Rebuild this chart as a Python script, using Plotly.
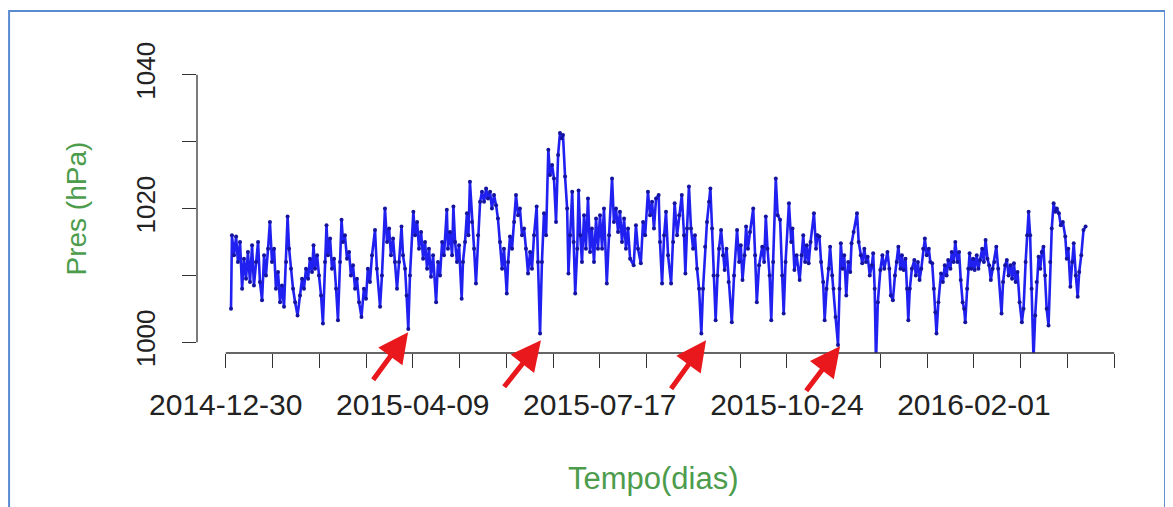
import pandas as pd
import plotly.graph_objects as go

# serie de pressao (dias desde 2015-01-01, hPa)
inicio = pd.Timestamp("2015-01-01")
dias = [
    0.8, 1.3, 2.4, 3.5, 4.5, 5.6, 6.7, 7.7, 8.8, 9.8, 10.9, 12.0, 13.0, 14.1, 15.2, 16.2, 17.3, 18.4, 19.4, 20.5,
    21.5, 22.6, 23.7, 24.7, 25.8, 26.9, 27.9, 29.0, 30.1, 30.9, 31.7, 32.7, 33.8, 34.9, 36.2, 37.5,
    38.6, 39.6, 40.7, 41.8, 42.8, 43.9, 44.7, 45.5, 46.6, 47.6, 48.7, 49.7, 50.8, 51.6, 52.4, 53.5, 54.5, 55.6,
    56.7, 57.7, 58.8, 59.6, 60.4, 61.4, 62.5, 63.6, 64.6, 65.7, 66.8, 67.8, 68.9, 70.2, 71.5, 72.6, 73.6, 74.7,
    75.8, 77.4, 78.4, 80.1,
    81.1, 82.7, 83.8, 84.9, 85.9, 87.0, 88.0, 89.1, 90.2, 91.5, 92.3, 93.4, 94.2, 95.1, 96.0, 97.8, 98.7, 99.8,
    100.8, 101.9, 103.0, 104.0, 105.1, 106.1, 107.2, 108.3, 109.9, 110.9, 112.0,
    113.1, 114.1, 115.6, 116.2, 117.3, 118.4, 119.1, 120.0, 121.0, 122.1, 123.5, 124.2, 125.3, 126.3, 127.1,
    127.9, 129.0, 130.1, 131.1, 132.2, 133.3, 134.3, 135.4, 136.5, 137.5, 138.6, 139.6, 140.7, 141.8, 142.8,
    143.9, 145.0, 146.0, 147.5, 148.2, 149.2, 150.3, 151.4, 152.4, 153.5, 154.5, 155.6, 156.7, 157.7, 158.8,
    159.9, 160.9, 162.0, 163.4, 164.1, 165.2, 166.2, 167.3, 168.4, 169.6, 170.5, 171.6, 172.6, 173.7, 174.8,
    175.8, 176.6, 177.4, 178.5, 179.6, 180.3, 181.2, 182.3, 183.1, 183.9, 185.0, 185.7, 186.6,
    187.5, 188.6, 189.6, 190.7, 191.8, 192.8, 193.9, 195.0, 196.0, 197.1,
    198.2, 199.2, 200.7, 201.9, 203.5, 204.5, 205.6, 206.7, 207.7, 208.8, 209.9, 210.9, 212.0, 213.1, 215.0,
    216.2, 217.3, 218.8, 220.0, 221.1, 222.6, 223.7, 224.8, 225.8, 226.9, 228.3, 229.0, 230.1, 231.2, 232.2,
    233.3, 234.9, 236.0, 236.8, 238.1, 239.2, 240.6, 241.8, 242.5, 243.4, 244.4, 245.5, 246.6, 247.6, 248.7, 249.8,
    251.0, 251.9, 253.0, 254.0, 255.1, 255.8, 256.7, 257.5, 258.6, 259.6, 260.4, 261.5, 262.5, 263.4, 264.4,
    265.5, 267.2, 268.4, 270.0, 271.1, 272.0, 272.9, 274.0, 274.8, 275.8, 276.9, 278.6, 279.6, 280.5, 281.7,
    283.4, 284.4, 285.3, 286.2, 287.3, 288.2, 289.2, 290.6, 291.6, 292.9, 294.0, 294.8, 295.8, 297.6, 298.8,
    299.5, 300.5, 301.7, 303.3, 304.3,
    305.2, 306.2, 307.1, 308.1, 309.1, 310.9, 312.0, 312.8, 313.8, 314.7, 315.8, 316.6, 317.6, 318.7, 319.5,
    320.6, 321.3, 322.4, 323.7, 324.5, 325.2, 326.2, 327.0, 328.1, 329.1, 330.2, 330.9, 332.0, 333.8, 334.7,
    335.8, 336.6, 337.7, 338.6, 339.5, 340.6, 341.7, 342.4, 343.2, 343.9, 344.9, 346.2, 347.3, 348.3, 350.0,
    351.0, 351.8, 352.9, 354.0, 354.9, 355.8, 356.9,
    357.7, 358.6, 359.6, 360.4, 361.1, 361.9, 363.0, 364.3, 365.1, 366.2, 367.1, 368.0, 369.0, 369.9, 370.9,
    372.0, 372.8, 373.8, 374.7, 375.5, 376.1, 377.1, 378.5, 379.5, 380.5, 381.5, 382.3, 383.5, 384.2, 385.2,
    386.1, 387.2, 388.1, 389.0, 390.0, 390.8, 391.4, 392.4, 393.0, 393.7, 394.6, 395.6, 396.4, 397.5, 398.4,
    399.3, 400.4, 401.3, 402.2, 403.2, 404.1, 405.0, 406.0, 406.9, 407.9, 408.9,
    410.7, 411.5, 412.6, 413.5, 414.4, 415.5, 416.3, 417.3, 418.2, 419.2, 420.3, 421.5, 422.4, 423.5, 424.3,
    425.1, 425.9, 426.7, 427.7, 428.6, 429.4, 430.4, 431.3, 432.1, 433.0, 433.9, 434.7, 435.7, 436.6, 437.4,
    438.4, 439.3, 440.1, 441.2, 442.2, 443.3, 444.6, 445.4, 446.2, 447.3, 448.3, 449.1, 450.2, 451.2, 452.0,
    453.1, 454.3, 455.4,
]
pres = [
    1005.0, 1016.0, 1013.0, 1015.8, 1012.0, 1015.0, 1008.0, 1012.5, 1009.5, 1013.5, 1009.0, 1014.5, 1008.5, 1012.0, 1015.0, 1009.0, 1006.3, 1013.0, 1010.0, 1014.0,
    1018.0, 1012.0, 1014.0, 1008.0, 1010.5, 1006.0, 1008.5, 1005.3, 1012.0, 1018.8, 1014.0, 1011.0, 1008.0, 1006.0, 1004.0, 1007.0,
    1009.5, 1008.0, 1011.0, 1009.5, 1012.5, 1010.5, 1014.5, 1011.0, 1013.0, 1010.0, 1007.0, 1002.8, 1012.0, 1017.5, 1013.0, 1015.5, 1011.0, 1012.5,
    1008.0, 1003.3, 1012.0, 1018.3, 1015.0, 1016.0, 1012.5, 1013.5, 1010.0, 1011.5, 1008.0, 1009.5, 1006.0, 1003.8, 1008.0, 1006.5, 1011.0, 1009.0,
    1013.0, 1016.8, 1011.0, 1005.3,
    1010.0, 1020.0, 1015.0, 1017.0, 1013.0, 1015.5, 1012.0, 1008.0, 1012.0, 1017.3, 1013.0, 1011.0, 1007.0, 1002.0, 1010.0, 1019.5, 1016.0, 1018.0,
    1014.0, 1016.5, 1012.5, 1015.0, 1011.0, 1014.0, 1009.8, 1013.0, 1006.0, 1012.0, 1010.0,
    1015.0, 1013.0, 1019.8, 1014.0, 1016.5, 1013.0, 1020.3, 1015.0, 1012.0, 1014.5, 1006.5, 1012.0, 1015.0, 1019.3, 1016.0,
    1024.0, 1018.0, 1014.0, 1008.8, 1016.0, 1021.0, 1022.5, 1021.0, 1023.0, 1021.5, 1022.5, 1020.0, 1022.0, 1020.5, 1018.5,
    1015.0, 1011.0, 1014.0, 1007.3, 1012.0, 1015.8, 1014.0, 1018.0, 1022.0, 1019.0, 1020.0, 1016.0, 1017.0, 1014.0, 1010.3,
    1013.5, 1011.0, 1016.0, 1020.3, 1012.0, 1001.3, 1012.0, 1019.3, 1016.0, 1028.8, 1025.0, 1026.5, 1024.5, 1018.0, 1028.0,
    1031.3, 1030.5, 1031.0, 1024.8, 1020.0, 1010.3, 1016.0, 1022.5, 1015.0, 1007.3, 1014.0, 1022.7, 1016.0,
    1012.0, 1019.0, 1014.0, 1021.5, 1013.5, 1017.0, 1012.0, 1018.5, 1014.0, 1019.0,
    1014.0, 1020.0, 1008.8, 1016.0, 1024.5, 1018.0, 1020.0, 1016.5, 1019.5, 1015.0, 1018.5, 1014.0, 1017.0, 1012.5, 1011.5,
    1017.5, 1014.0, 1011.8, 1018.0, 1016.0, 1022.5, 1019.0, 1021.0, 1017.0, 1021.5, 1022.0, 1015.0, 1008.8, 1016.0, 1019.5,
    1013.0, 1008.8, 1015.0, 1020.8, 1016.0, 1019.0, 1022.0, 1016.0, 1010.3, 1017.0, 1023.3, 1017.0, 1014.0, 1016.0, 1011.0, 1008.0,
    1001.3, 1008.0, 1014.3, 1018.0, 1021.0, 1023.0, 1017.0, 1010.0, 1003.3, 1010.0, 1014.0, 1016.8, 1013.0, 1010.8, 1014.0,
    1009.0, 1003.0, 1010.0, 1016.8, 1012.0, 1014.5, 1009.3, 1013.0, 1017.3, 1014.0, 1016.5, 1020.0, 1013.0, 1006.0, 1011.5,
    1014.3, 1012.0, 1018.8, 1014.0, 1010.0, 1003.3, 1012.0, 1024.5, 1019.0, 1018.3, 1010.0, 1004.3, 1012.0, 1020.8, 1015.0,
    1017.0, 1010.8, 1013.0, 1009.3, 1013.0,
    1016.0, 1012.0, 1014.5, 1011.8, 1015.0, 1019.3, 1014.0, 1016.0, 1015.8, 1012.0, 1009.0, 1003.3, 1008.0, 1011.0, 1014.3,
    1010.0, 1008.0, 1003.8, 999.6, 1008.0, 1014.8, 1011.0, 1013.0, 1007.0, 1012.0, 1010.5, 1014.8, 1016.5, 1019.3, 1015.0,
    1013.0, 1011.8, 1014.0, 1012.0, 1012.8, 1010.0, 1011.5, 1013.3, 1008.0, 997.0, 1006.0, 1010.8, 1013.0, 1011.0, 1013.5,
    1011.0, 1007.0, 1006.3, 1010.0, 1012.0, 1014.3, 1011.0,
    1013.0, 1010.8, 1012.5, 1008.0, 1003.3, 1008.0, 1011.0, 1012.3, 1010.0, 1012.0, 1009.3, 1011.0, 1014.0, 1015.5, 1013.0,
    1014.0, 1012.0, 1011.8, 1008.0, 1004.5, 1001.3, 1006.0, 1010.3, 1009.0, 1011.5, 1010.0, 1012.3, 1011.0, 1013.5, 1012.0,
    1015.0, 1012.0, 1013.5, 1009.3, 1006.0, 1005.0, 1003.0, 1008.0, 1011.0, 1013.3, 1011.0, 1012.5, 1010.8, 1013.0, 1011.0,
    1012.3, 1014.0, 1012.0, 1015.3, 1012.5, 1011.5, 1009.3, 1011.0, 1012.0, 1014.3, 1011.0,
    1004.3, 1009.0, 1011.5, 1012.3, 1010.0, 1011.5, 1009.5, 1011.8, 1009.0, 1010.5, 1006.0, 1003.0, 1005.0, 1012.0, 1016.0,
    1019.5, 1016.0, 1008.0, 997.5, 1004.0, 1009.0, 1012.8, 1011.0, 1013.5, 1014.3, 1010.0, 1005.0, 1002.5, 1012.0, 1017.0,
    1020.8, 1019.5, 1020.0, 1019.3, 1017.5, 1018.0, 1015.8, 1012.5, 1014.0, 1008.3, 1012.0, 1014.8, 1010.0, 1006.8, 1010.5,
    1013.0, 1016.8, 1017.3,
]

rotulos_x = ["2014-12-30", "2015-04-09", "2015-07-17", "2015-10-24", "2016-02-01"]
ticks_y = [1000, 1010, 1020, 1030, 1040]
rotulos_y = ["1000", "", "1020", "", "1040"]

# setas vermelhas nos minimos
seta_dias = [95.0, 165.7, 253.5, 324.8]
seta_pres = [1001.5, 1000.3, 1000.3, 999.4]
seta_dx = [-36, -38, -36, -35]
seta_dy = [49, 48, 50, 46]

datas = inicio + pd.to_timedelta(dias, unit="D")

# eixo x: um tick a cada 1/4 do intervalo entre rotulos
t0 = pd.Timestamp(rotulos_x[0])
passo = (pd.Timestamp(rotulos_x[-1]) - t0) / 16
tickvals = [t0 + k * passo for k in range(20)]
ticktext = [rotulos_x[k // 4] if k % 4 == 0 else "" for k in range(20)]

fonte = "Liberation Sans, Arial, sans-serif"
verde = "#4c9c4c"

fig = go.Figure(go.Scatter(
    x=datas, y=pres, mode="lines+markers",
    line=dict(color="#2020f0", width=2.6),
    marker=dict(size=4, color="#1414a0"),
))

# a pagina tem 8px de margem no body: figura reduzida para caber na janela
fig.update_layout(
    width=1165, height=499,
    margin=dict(l=189, r=53, t=56, b=154),
    plot_bgcolor="white", paper_bgcolor="white",
    showlegend=False,
    font=dict(family=fonte, color="#222"),
    xaxis=dict(
        type="date", range=["2014-12-14 17:00", "2016-04-18 17:00"],
        tickmode="array", tickvals=tickvals, ticktext=ticktext,
        ticks="outside", ticklen=14, tickwidth=1.3, tickcolor="#333",
        showgrid=False, zeroline=False, showline=False,
        tickfont=dict(size=30, color="#222"), ticklabelstandoff=11,
    ),
    yaxis=dict(
        range=[998.4, 1041.6],
        tickmode="array", tickvals=ticks_y, ticktext=rotulos_y, tickangle=-90,
        ticks="outside", ticklen=14, tickwidth=1.3, tickcolor="#333",
        showgrid=False, zeroline=False, showline=False,
        tickfont=dict(size=26, color="#222"), ticklabelstandoff=17,
    ),
)

# linhas dos eixos no estilo R (so entre o primeiro e o ultimo tick)
fig.add_shape(type="line", xref="x", yref="paper", x0=tickvals[0], x1=tickvals[-1], y0=0, y1=0,
              line=dict(color="#333", width=1.3))
fig.add_shape(type="line", xref="paper", yref="y", x0=0, x1=0, y0=ticks_y[0], y1=ticks_y[-1],
              line=dict(color="#333", width=1.3))

# moldura azul
fig.add_shape(type="rect", xref="paper", yref="paper", x0=-0.2036, x1=1.0488, y0=-0.6, y1=1.1834,
              line=dict(color="#5a8bd0", width=2), layer="below")

fig.add_annotation(text="Pres (hPa)", xref="paper", yref="paper", x=0, y=0.5, xshift=-121,
                   xanchor="center", yanchor="middle",
                   textangle=-90, showarrow=False, font=dict(size=28, color=verde))
fig.add_annotation(text="Tempo(dias)", xref="paper", yref="paper", x=0.5, y=0, yshift=-125,
                   xshift=-5, xanchor="center", yanchor="middle",
                   showarrow=False, font=dict(size=31, color=verde))

for d, p, dx, dy in zip(seta_dias, seta_pres, seta_dx, seta_dy):
    fig.add_annotation(x=inicio + pd.Timedelta(days=d), y=p, xref="x", yref="y", text="",
                       showarrow=True, ax=dx, ay=dy, arrowhead=2, arrowsize=1.2, arrowwidth=5,
                       arrowcolor="#e8181c", standoff=0)

fig.write_html("out.html")
